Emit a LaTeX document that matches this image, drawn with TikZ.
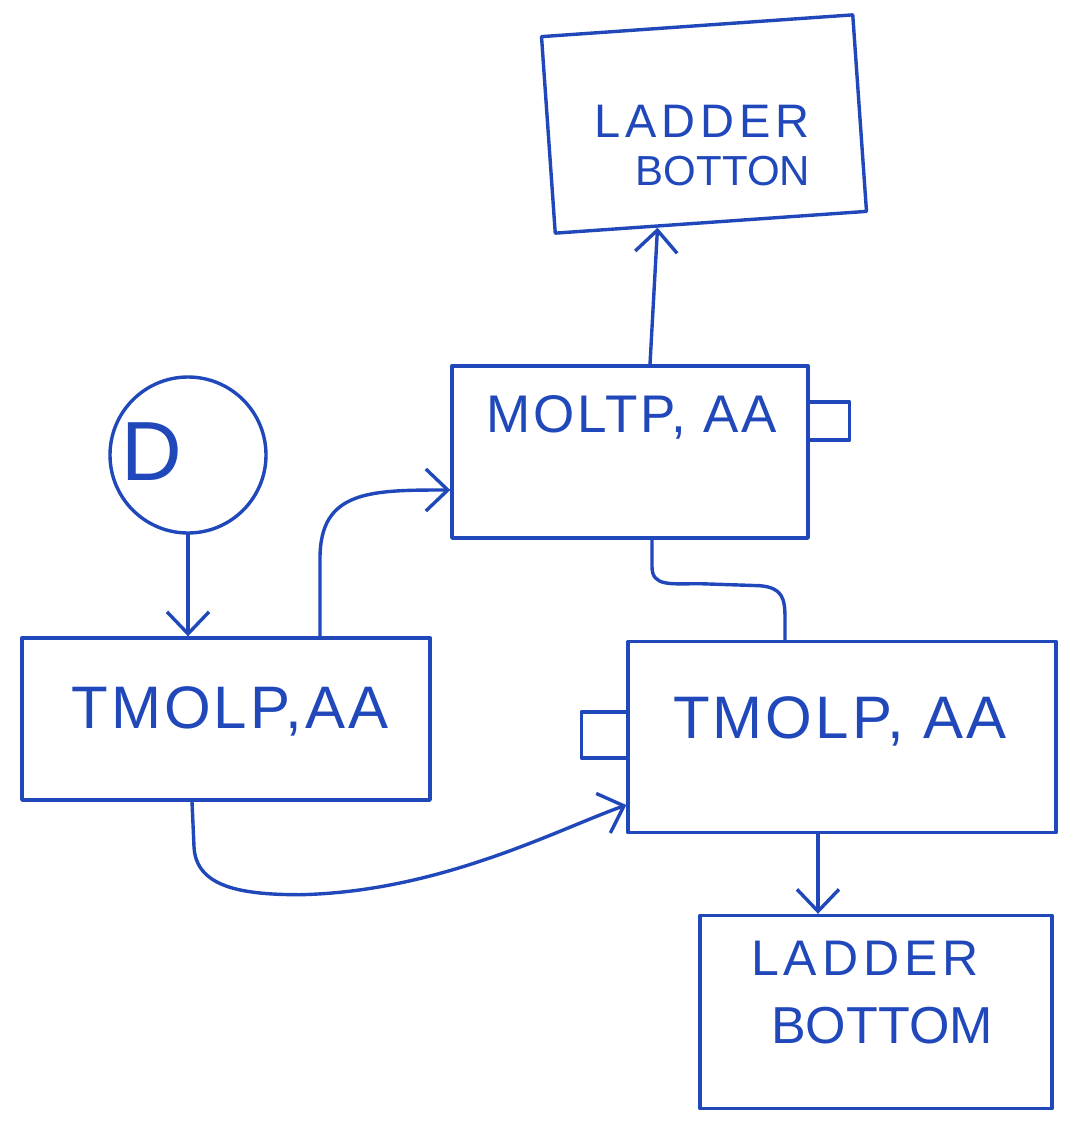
\documentclass[tikz,border=0pt]{standalone}
\usepackage{fontspec}
\setmainfont{Liberation Sans}
\newfontfamily\hand[LetterSpace=5]{Liberation Sans}
\newfontfamily\handwide[LetterSpace=10]{Liberation Sans}
\usetikzlibrary{arrows.meta,calc}
\definecolor{pen}{RGB}{32,72,186}
\begin{document}
\begin{tikzpicture}[x=1pt,y=-1pt,
  box/.style={draw=pen, line width=3.4pt, rectangle, inner sep=0pt, line join=round},
  lbl/.style={text=pen, inner sep=0pt, anchor=base},
  wire/.style={draw=pen, line width=3.4pt, line cap=round, line join=round},
  arr/.style={wire, -{Straight Barb[length=22pt,width=42pt]}}]
\useasboundingbox[fill=white] (0,0) rectangle (1075,1128);

% boxes
\node[box, minimum width=312pt, minimum height=197pt, rotate=4] (top) at (704,124) {};
\node[box, minimum width=356pt, minimum height=172pt] (moltp) at (630,452) {};
\node[box, circle, minimum size=156pt] (d) at (188,455) {};
\node[box, minimum width=408pt, minimum height=162pt] (tl) at (226,719) {};
\node[box, minimum width=428pt, minimum height=191pt] (tr) at (842,737) {};
\node[box, minimum width=352pt, minimum height=193pt] (bb) at (876,1012) {};

% labels
\node[lbl, font=\handwide\fontsize{47}{47}\selectfont] (t1a) at (702,137) {LADDER};
\node[lbl, font=\fontsize{42}{42}\selectfont] (t1b) at (723,185) {BOTTON};
\node[lbl, font=\hand\fontsize{53}{53}\selectfont] (t2) at (632,432) {MOLTP, AA};
\node[lbl, font=\fontsize{84}{84}\selectfont] (t3) at (152,480) {D};
\node[lbl, font=\hand\fontsize{60}{60}\selectfont] (t4) at (230,728) {TMOLP,AA};
\node[lbl, font=\hand\fontsize{60}{60}\selectfont] (t5) at (840,738) {TMOLP, AA};
\node[lbl, font=\handwide\fontsize{50}{50}\selectfont] (t6a) at (865,975) {LADDER};
\node[lbl, font=\fontsize{52}{52}\selectfont] (t6b) at (882,1043) {BOTTOM};

% side squares
\draw[wire] ($(moltp.east)+(0,-50)$) -- ++(40,0) -- ++(0,38) -- ++(-40,0);
\draw[wire] ($(tr.west)+(0,-25)$) -- ++(-45,0) -- ++(0,46) -- ++(45,0);

% connector end points
\coordinate (m1) at ($(moltp.north)+(20,0)$);
\coordinate (m2) at ($(top.south west)!0.33!(top.south east)$);
\coordinate (l1) at ($(tl.north)+(94,0)$);
\coordinate (l2) at ($(moltp.west)+(0,38)$);
\coordinate (l3) at ($(tl.south)+(-34,0)$);
\coordinate (r1) at ($(tr.west)+(0,68)$);
\coordinate (m3) at ($(moltp.south)+(22,0)$);
\coordinate (r2) at ($(tr.north)+(-57,0)$);
\coordinate (r3) at ($(tr.south)+(-24,0)$);

% connectors
\draw[arr] (m1) -- (m2);
\draw[arr] (d.south) -- (d.south |- tl.north);
\draw[arr] (l1) -- ++(0,-78)
  .. controls +(0,-68) and +(-80,0) .. (l2);
\draw[arr] (l3) -- ++(2,45)
  .. controls +(2,40) and +(-60,0) .. ++(106,48)
  .. controls +(140,-3) and +(-70,25) .. (r1);
\draw[wire] (m3) -- ++(0,27)
  .. controls +(0,20) and +(-30,0) .. ++(48,17) -- ++(60,2)
  .. controls +(22,2) and +(0,-20) .. ($(r2)+(0,-22)$) -- (r2);
\draw[arr] (r3) -- (r3 |- bb.north);
\end{tikzpicture}
\end{document}
